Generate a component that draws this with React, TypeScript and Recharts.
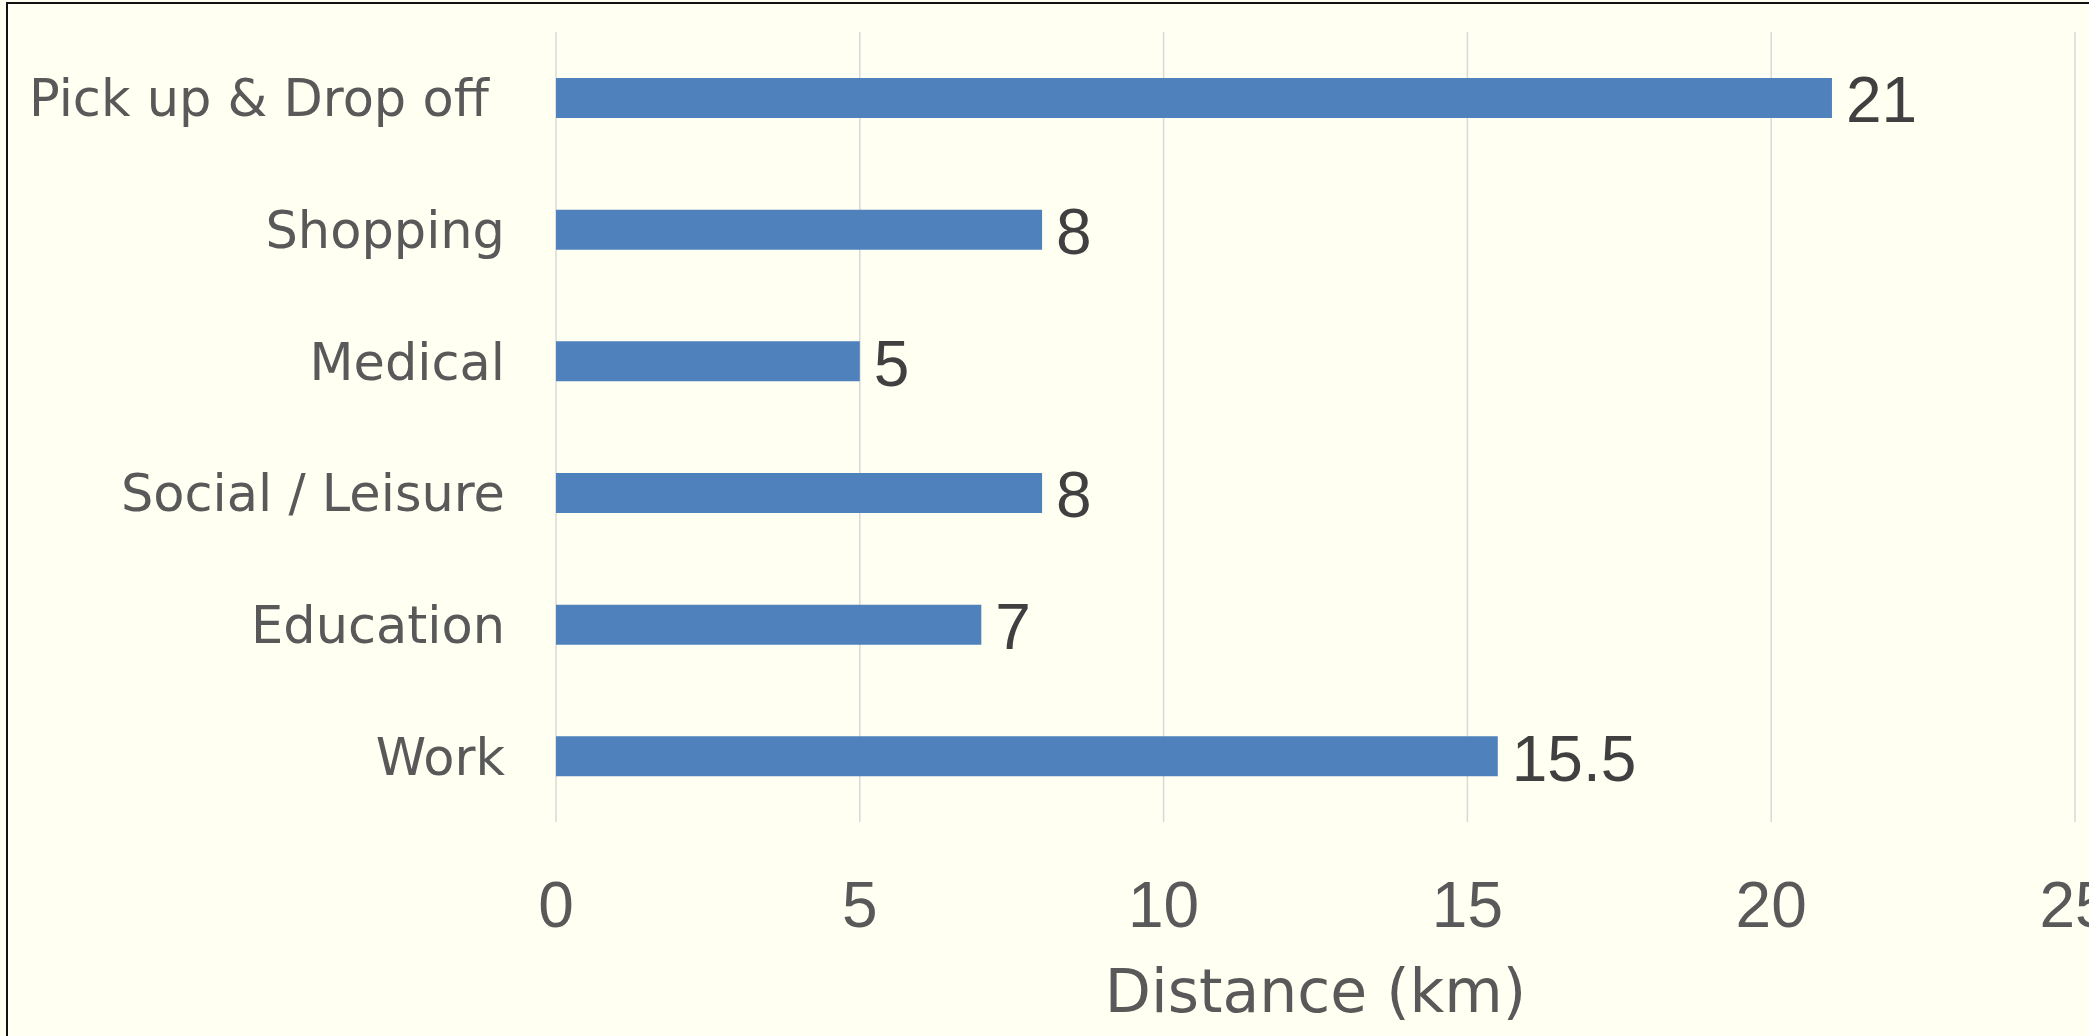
import { Bar, BarChart, CartesianGrid, Label, LabelList, XAxis, YAxis } from 'recharts'

// trip purpose -> average one-way distance
const purposes = ['Pick up & Drop off ', 'Shopping', 'Medical', 'Social / Leisure', 'Education', 'Work']
const distanceKm = [21, 8, 5, 8, 7, 15.5]
const distanceTicks = [0, 5, 10, 15, 20, 25]

const data = purposes.map((purpose, i) => ({ purpose, km: distanceKm[i] }))

const PAPER = '#FFFFF2'
const BAR = '#4F81BD'
const GRID = '#D9D9D9'
const LABEL = '#595959'
const VALUE = '#404040'
const TEXT_FONT = '"DejaVu Sans", sans-serif'
const NUM_FONT = '"Liberation Sans", Arial, sans-serif'

function PurposeTick({ x, y, payload }: any) {
  return (
    <text
      x={x - 43}
      y={y}
      dy="0.36em"
      textAnchor="end"
      fill={LABEL}
      fontFamily={TEXT_FONT}
      fontSize={51}
      style={{ whiteSpace: 'pre' }}
    >
      {payload.value}
    </text>
  )
}

function DistanceTick({ x, y, payload }: any) {
  return (
    <text x={x} y={y + 97} textAnchor="middle" fill={LABEL} fontFamily={NUM_FONT} fontSize={64}>
      {payload.value}
    </text>
  )
}

function ValueLabel(props: any) {
  const { x, y, width, height, value } = props
  return (
    <text
      x={Number(x) + Number(width) + 14}
      y={Number(y) + Number(height) / 2}
      dy="0.38em"
      fill={VALUE}
      fontFamily={NUM_FONT}
      fontSize={64}
    >
      {value}
    </text>
  )
}

export default function App() {
  return (
    <div
      style={{
        position: 'fixed',
        left: 0,
        top: 0,
        width: 2089,
        height: 1036,
        overflow: 'hidden',
        background: PAPER,
      }}
    >
      {/* frame edge, only top and left are in view */}
      <div
        style={{
          position: 'absolute',
          left: 6,
          top: 2,
          right: -20,
          bottom: -20,
          borderTop: '2px solid #111',
          borderLeft: '2px solid #111',
        }}
      />
      <div style={{ position: 'absolute', left: 0, top: 0 }}>
        <BarChart
          width={2200}
          height={1036}
          data={data}
          layout="vertical"
          margin={{ top: 32, right: 125, bottom: 0, left: 0 }}
        >
          <CartesianGrid horizontal={false} stroke={GRID} strokeWidth={1.5} />
          <XAxis
            type="number"
            domain={[0, 25]}
            ticks={distanceTicks}
            height={214}
            axisLine={false}
            tickLine={false}
            tick={<DistanceTick />}
            interval={0}
          >
            <Label
              value="Distance (km)"
              position="insideBottom"
              offset={24}
              fill={LABEL}
              fontFamily={TEXT_FONT}
              fontSize={60}
            />
          </XAxis>
          <YAxis
            type="category"
            dataKey="purpose"
            width={556}
            axisLine={false}
            tickLine={false}
            tick={<PurposeTick />}
            interval={0}
          />
          <Bar dataKey="km" fill={BAR} barSize={40} isAnimationActive={false}>
            <LabelList dataKey="km" content={<ValueLabel />} />
          </Bar>
        </BarChart>
      </div>
    </div>
  )
}
